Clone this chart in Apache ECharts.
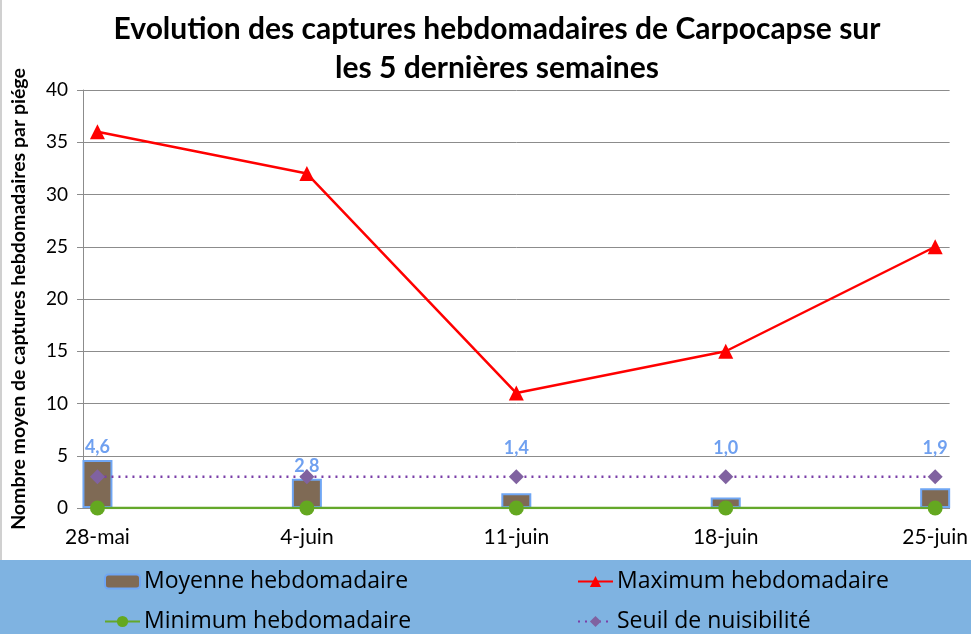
<!DOCTYPE html>
<html><head><meta charset="utf-8">
<script src="https://cdn.jsdelivr.net/npm/echarts@6/dist/echarts.min.js"></script>
<style>html,body{margin:0;padding:0;background:#fff}#c{width:971px;height:634px}</style>
</head><body><div id="c"></div>
<script>
const categories = ['28-mai', '4-juin', '11-juin', '18-juin', '25-juin'];
const moyenne = [4.6, 2.8, 1.4, 1.0, 1.9];
const maximum = [36, 32, 11, 15, 25];
const minimum = [0, 0, 0, 0, 0];
const seuil = [3, 3, 3, 3, 3];
const yTicks = [0, 5, 10, 15, 20, 25, 30, 35, 40];

const FONT = 'Lato';
const pts = arr => arr.map((v, i) => [i, v]);
const labelOffsets = [0, 0, -32, -36, -27];

const legendText = {fontFamily: 'Open Sans', fontSize: 23, color: '#000', padding: [0, 0, 0, -1]};
const mkLegend = (name, left, top) => ({
  data: [name], orient: 'horizontal', left, top, itemWidth: 35, itemHeight: 14,
  textStyle: legendText
});

const chart = echarts.init(document.getElementById('c'), null, {renderer: 'canvas'});
chart.setOption({
  backgroundColor: '#fff',
  animation: false,
  textStyle: {fontFamily: FONT},
  title: {
    text: 'Evolution des captures hebdomadaires de Carpocapse sur\nles 5 dernières semaines',
    left: 492, textAlign: 'center', top: 5,
    textStyle: {fontFamily: FONT, fontWeight: 'bold', fontSize: 30, lineHeight: 39, color: '#000'}
  },
  graphic: [
    {type: 'rect', shape: {x: 0, y: 560, width: 971, height: 74}, style: {fill: '#7FB3E1'}, z: -10},
    {type: 'rect', shape: {x: 0, y: 0, width: 2, height: 560}, style: {fill: '#d0d0d0'}, z: -10}
  ],
  grid: {left: 83, right: 18, top: 90, bottom: 126, containLabel: false},
  legend: [
    mkLegend('Moyenne hebdomadaire', 99, 565),
    mkLegend('Minimum hebdomadaire', 99, 605),
    mkLegend('Maximum hebdomadaire', 572, 565),
    mkLegend('Seuil de nuisibilité', 572, 605)
  ],
  xAxis: {
    type: 'value', min: -0.069, max: 4.069,
    axisLine: {show: true, onZero: false, lineStyle: {color: '#8c8c8c'}},
    axisTick: {show: false},
    splitLine: {show: false},
    axisLabel: {
      customValues: categories.map((c, i) => i),
      formatter: v => categories[Math.round(v)],
      fontFamily: FONT, fontSize: 21, color: '#000', margin: 19
    }
  },
  yAxis: {
    type: 'value', min: 0, max: 40, interval: 5,
    name: 'Nombre moyen de captures hebdomadaires par piége',
    nameLocation: 'middle', nameGap: 54, nameRotate: 90,
    nameTextStyle: {fontFamily: FONT, fontWeight: 'bold', fontSize: 19.5, color: '#000'},
    axisLine: {show: true, onZero: false, lineStyle: {color: '#8c8c8c'}},
    axisTick: {show: true, length: 6, lineStyle: {color: '#8c8c8c'}},
    splitLine: {show: true, lineStyle: {color: '#8c8c8c', width: 1}},
    axisLabel: {fontFamily: FONT, fontSize: 19, color: '#000', margin: 15,
      formatter: v => yTicks.includes(v) ? String(v) : ''}
  },
  series: [
    {
      name: 'Moyenne hebdomadaire', type: 'bar', barWidth: 30,
      data: moyenne.map((v, i) => ({value: [i, v], label: {offset: [0, labelOffsets[i]]}})),
      itemStyle: {color: '#7F6A55', borderColor: '#6FA6F4', borderWidth: 2},
      label: {show: true, position: 'top', distance: 4, color: '#6FA0F0', fontWeight: 'bold', fontSize: 18,
        fontFamily: FONT, formatter: p => p.value[1].toFixed(1).replace('.', ',')},
      z: 1
    },
    {
      name: 'Seuil de nuisibilité', type: 'line', data: pts(seuil),
      symbol: 'diamond', symbolSize: 15,
      lineStyle: {color: '#7A3FA8', width: 2.5, type: [2, 5]},
      itemStyle: {color: '#8062A0'}, z: 3
    },
    {
      name: 'Minimum hebdomadaire', type: 'line', data: pts(minimum),
      symbol: 'circle', symbolSize: 15,
      lineStyle: {color: '#64A82B', width: 2.5},
      itemStyle: {color: '#64A820'}, z: 4
    },
    {
      name: 'Maximum hebdomadaire', type: 'line', data: pts(maximum),
      symbol: 'triangle', symbolSize: 15,
      lineStyle: {color: '#FF0000', width: 2.5},
      itemStyle: {color: '#FF0000'}, z: 5
    }
  ]
});
</script></body></html>
